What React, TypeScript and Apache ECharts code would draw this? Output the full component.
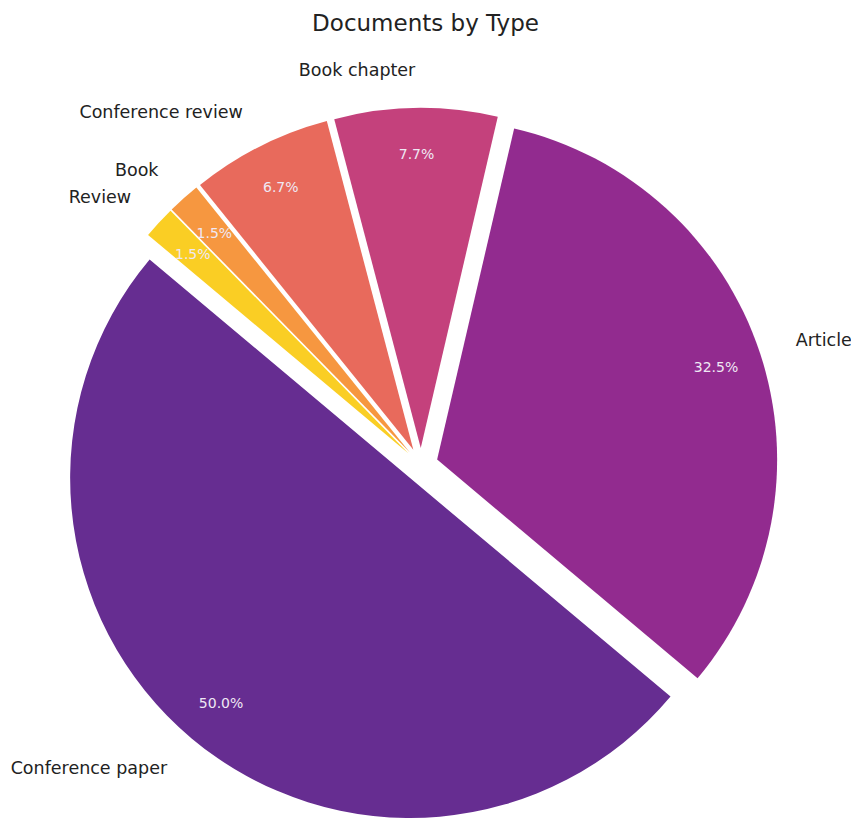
import React, { useEffect, useRef } from "react";
import * as echarts from "echarts";

const categories = ["Conference paper", "Article", "Book chapter", "Conference review", "Book", "Review"];
const counts = [97, 63, 15, 13, 3, 3];
const colors = ["#662d91", "#922b8f", "#c4417c", "#e86a5c", "#f69740", "#face24"];
const title = "Documents by Type";

export default function App() {
  const ref = useRef<HTMLDivElement>(null);
  useEffect(() => {
    if (!ref.current) return;
    const chart = echarts.init(ref.current, undefined, { renderer: "svg" });
    const total = counts.reduce((a, b) => a + b, 0);
    const center = [421, 465];
    const font = "'DejaVu Sans', sans-serif";
    const slices = categories.map((name, i) => ({
      name,
      value: counts[i],
      selected: true,
      itemStyle: { color: colors[i] },
    }));
    const transparent = categories.map((name, i) => ({
      name,
      value: counts[i],
      itemStyle: { color: "rgba(0,0,0,0)" },
    }));
    chart.setOption({
      animation: false,
      title: {
        text: title,
        left: "center",
        top: 6,
        textStyle: { fontFamily: font, fontSize: 23, fontWeight: "normal", color: "#222" },
      },
      series: [
        {
          type: "pie",
          center,
          radius: [0, 340],
          startAngle: 140,
          clockwise: false,
          selectedMode: "multiple",
          selectedOffset: 17,
          avoidLabelOverlap: false,
          label: { show: false },
          labelLine: { show: false },
          emphasis: { disabled: true },
          itemStyle: { borderWidth: 0 },
          data: slices,
          silent: true,
        },
        {
          type: "pie",
          center,
          radius: [298, 318],
          startAngle: 140,
          clockwise: false,
          avoidLabelOverlap: false,
          silent: true,
          emphasis: { disabled: true },
          label: {
            show: true,
            position: "inside",
            color: "#efe8f4",
            fontFamily: font,
            fontSize: 14,
            formatter: (p: any) => ((p.value / total) * 100).toFixed(1) + "%",
          },
          labelLine: { show: false },
          data: transparent,
        },
        {
          type: "pie",
          center,
          radius: [0, 340],
          startAngle: 140,
          clockwise: false,
          avoidLabelOverlap: false,
          silent: true,
          emphasis: { disabled: true },
          label: {
            show: true,
            position: "outside",
            color: "#222",
            fontFamily: font,
            fontSize: 17.5,
            distanceToLabelLine: 0,
            formatter: "{b}",
          },
          labelLine: { show: false, length: 55, length2: 0 },
          data: transparent,
        },
      ],
    });
    return () => chart.dispose();
  }, []);
  return (
    <div
      ref={ref}
      style={{ position: "absolute", left: 0, top: 0, width: 851, height: 820 }}
    />
  );
}
